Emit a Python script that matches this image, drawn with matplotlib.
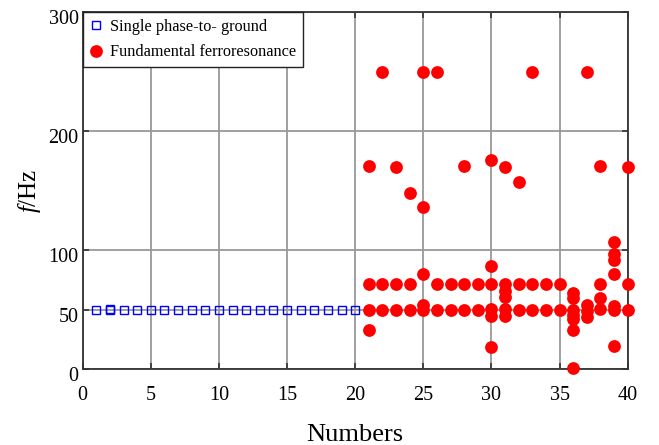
import numpy as np
import matplotlib
matplotlib.use("Agg")
import matplotlib.pyplot as plt
from matplotlib.transforms import ScaledTranslation

plt.rcParams['font.family'] = ['Liberation Serif', 'DejaVu Serif']
plt.rcParams['mathtext.fontset'] = 'custom'
plt.rcParams['mathtext.it'] = 'Liberation Serif:italic'
plt.rcParams['mathtext.rm'] = 'Liberation Serif'

# single phase-to-ground cases
single_x = list(range(1, 21)) + [2]
single_y = [50] * 20 + [51]

# fundamental ferroresonance cases (number -> frequencies)
ferro = {
    21: [171, 72, 50, 33],
    22: [250, 72, 50],
    23: [170, 72, 50],
    24: [148, 72, 50],
    25: [250, 136, 80, 54, 50],
    26: [250, 72, 50],
    27: [72, 50],
    28: [171, 72, 50],
    29: [72, 50],
    30: [176, 87, 72, 51, 45, 19],
    31: [170, 72, 66, 61, 51, 45],
    32: [157, 72, 50],
    33: [250, 72, 50],
    34: [72, 50],
    35: [72, 50],
    36: [64, 60, 50, 46, 42, 33, 1],
    37: [250, 54, 49, 44],
    38: [171, 72, 60, 51],
    39: [107, 97, 92, 80, 53, 50, 20],
    40: [170, 72, 50],
}
ferro_x = [n for n, fs in ferro.items() for f in fs]
ferro_y = [f for n, fs in ferro.items() for f in fs]

xticks = [0, 5, 10, 15, 20, 25, 30, 35, 40]
yticks = [0, 50, 100, 200, 300]

fig = plt.figure(figsize=(6.59, 4.45), dpi=100)
ax = fig.add_axes([0.1255, 0.170, 0.827, 0.803])

ax.plot(single_x, single_y, 's', ms=6.2, mfc='none', mec='#0000ff', mew=1.0,
        label='Single phase-to- ground', zorder=3, clip_on=False)
ax.plot(ferro_x, ferro_y, 'o', ms=9.2, color='#ff0000', mec='none',
        label='Fundamental ferroresonance', zorder=3, clip_on=False)

ax.set_xlim(0, 40)
ax.set_ylim(0, 300)
ax.set_xticks(xticks)
ax.set_yticks(yticks)
ax.grid(True, color='#999999', lw=1.3)
ax.set_axisbelow(True)
ax.tick_params(direction='in', top=True, right=True, length=4, width=1.2,
               color='#333333', labelsize=14.5)
ax.tick_params(axis='x', pad=12)
ax.tick_params(axis='y', pad=3)
for s in ax.spines.values():
    s.set_color('#333333')
    s.set_linewidth(1.3)

# y tick labels sit a little low in the original
off = ScaledTranslation(0, -5 / 100, fig.dpi_scale_trans)
for lab in ax.get_yticklabels():
    lab.set_transform(lab.get_transform() + off)

ax.set_xlabel('Numbers', fontsize=19, labelpad=14)
ax.set_ylabel(r'$f$/Hz', fontsize=18, labelpad=4)

leg = ax.legend(loc='upper left', borderaxespad=0, fontsize=11.7, fancybox=False,
                framealpha=1, edgecolor='#222222', handletextpad=0.5,
                handlelength=0.8, borderpad=0.4, labelspacing=0.6)
leg.get_frame().set_linewidth(1.0)

fig.savefig('out.png', dpi=100)
